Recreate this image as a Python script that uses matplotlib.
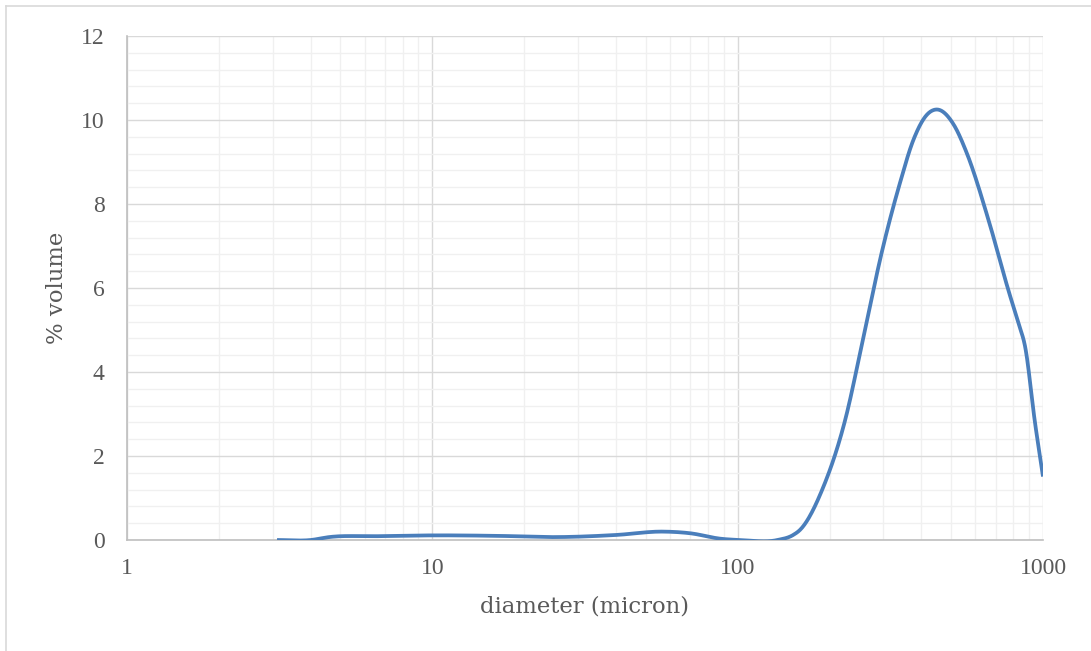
import numpy as np
import matplotlib
matplotlib.use('Agg')
import matplotlib.pyplot as plt
from matplotlib.lines import Line2D
from matplotlib.ticker import LogLocator, MultipleLocator, NullFormatter, FixedLocator, FixedFormatter

# particle size distribution
diameter = [3.1, 4.0, 4.6, 6.5, 10, 16, 26, 40, 57, 70, 88, 102, 135, 152, 160,
            189, 225, 261, 296, 340, 376, 416, 449, 509, 563, 663, 770, 831,
            874, 942, 1000]
volume = [0, 0, 0.07, 0.09, 0.11, 0.10, 0.07, 0.12, 0.20, 0.16, 0.03, 0, 0, 0.12,
          0.24, 1.19, 2.86, 5.0, 6.83, 8.5, 9.52, 10.12, 10.25, 9.9, 9.21,
          7.62, 5.95, 5.16, 4.6, 2.78, 1.51]
x_ticks = [1, 10, 100, 1000]
x_labels = ['1', '10', '100', '1000']


def smooth(xs, ys, n=30):
    # smoothed line: cubic hermite in (log x, y) with finite-difference slopes
    lx = np.log10(xs)
    ys = np.asarray(ys, dtype=float)
    m = np.gradient(ys, lx)
    outx, outy = [], []
    t = np.linspace(0, 1, n, endpoint=False)
    for i in range(len(lx) - 1):
        h = lx[i + 1] - lx[i]
        h00 = 2 * t ** 3 - 3 * t ** 2 + 1
        h10 = t ** 3 - 2 * t ** 2 + t
        h01 = -2 * t ** 3 + 3 * t ** 2
        h11 = t ** 3 - t ** 2
        outx.extend(lx[i] + t * h)
        outy.extend(h00 * ys[i] + h10 * h * m[i] + h01 * ys[i + 1] + h11 * h * m[i + 1])
    outx.append(lx[-1])
    outy.append(ys[-1])
    return 10 ** np.array(outx), np.array(outy)


plt.rcParams['font.family'] = ['DejaVu Serif']
txt = '#595959'

fig = plt.figure(figsize=(10.91, 6.51), dpi=100)
ax = fig.add_axes([127 / 1091, 111 / 651, 916 / 1091, 504 / 651])

sx, sy = smooth(diameter, volume)
ax.plot(sx, sy, color='#4a7ebb', lw=2.7, solid_capstyle='butt', zorder=3)

ax.set_xscale('log')
ax.set_xlim(1, 1000)
ax.set_ylim(0, 12)
ax.xaxis.set_major_locator(FixedLocator(x_ticks))
ax.xaxis.set_major_formatter(FixedFormatter(x_labels))
ax.xaxis.set_minor_locator(LogLocator(base=10, subs=np.arange(2, 10)))
ax.xaxis.set_minor_formatter(NullFormatter())
ax.yaxis.set_major_locator(MultipleLocator(2))
ax.yaxis.set_minor_locator(MultipleLocator(0.4))

ax.grid(which='major', color='#d9d9d9', lw=1.0)
ax.grid(which='minor', color='#f0f0f0', lw=1.0)
ax.set_axisbelow(True)

for s in ['top', 'right']:
    ax.spines[s].set_visible(False)
for s in ['left', 'bottom']:
    ax.spines[s].set_color('#bfbfbf')
    ax.spines[s].set_linewidth(1.2)

ax.tick_params(which='both', length=0)
ax.tick_params(axis='y', pad=16, labelcolor=txt)
ax.tick_params(axis='x', pad=13, labelcolor=txt)
for lab in ax.get_xticklabels() + ax.get_yticklabels():
    lab.set_fontfamily('Liberation Serif')
    lab.set_fontsize(17)

ax.set_xlabel('diameter (micron)', fontsize=16.4, color=txt, va='center')
ax.set_ylabel('% volume', fontsize=16.4, color=txt, va='center')
ax.xaxis.set_label_coords(0.5, (540 - 607) / 504)
ax.yaxis.set_label_coords((57 - 127) / 916, 0.5)

# chart area border
fig.add_artist(Line2D([6 / 1091, 6 / 1091], [0, 1 - 6 / 651],
                      transform=fig.transFigure, color='#d9d9d9', lw=1.2))
fig.add_artist(Line2D([6 / 1091, 1], [1 - 6 / 651, 1 - 6 / 651],
                      transform=fig.transFigure, color='#d9d9d9', lw=1.2))

fig.savefig('out.png', dpi=100)
